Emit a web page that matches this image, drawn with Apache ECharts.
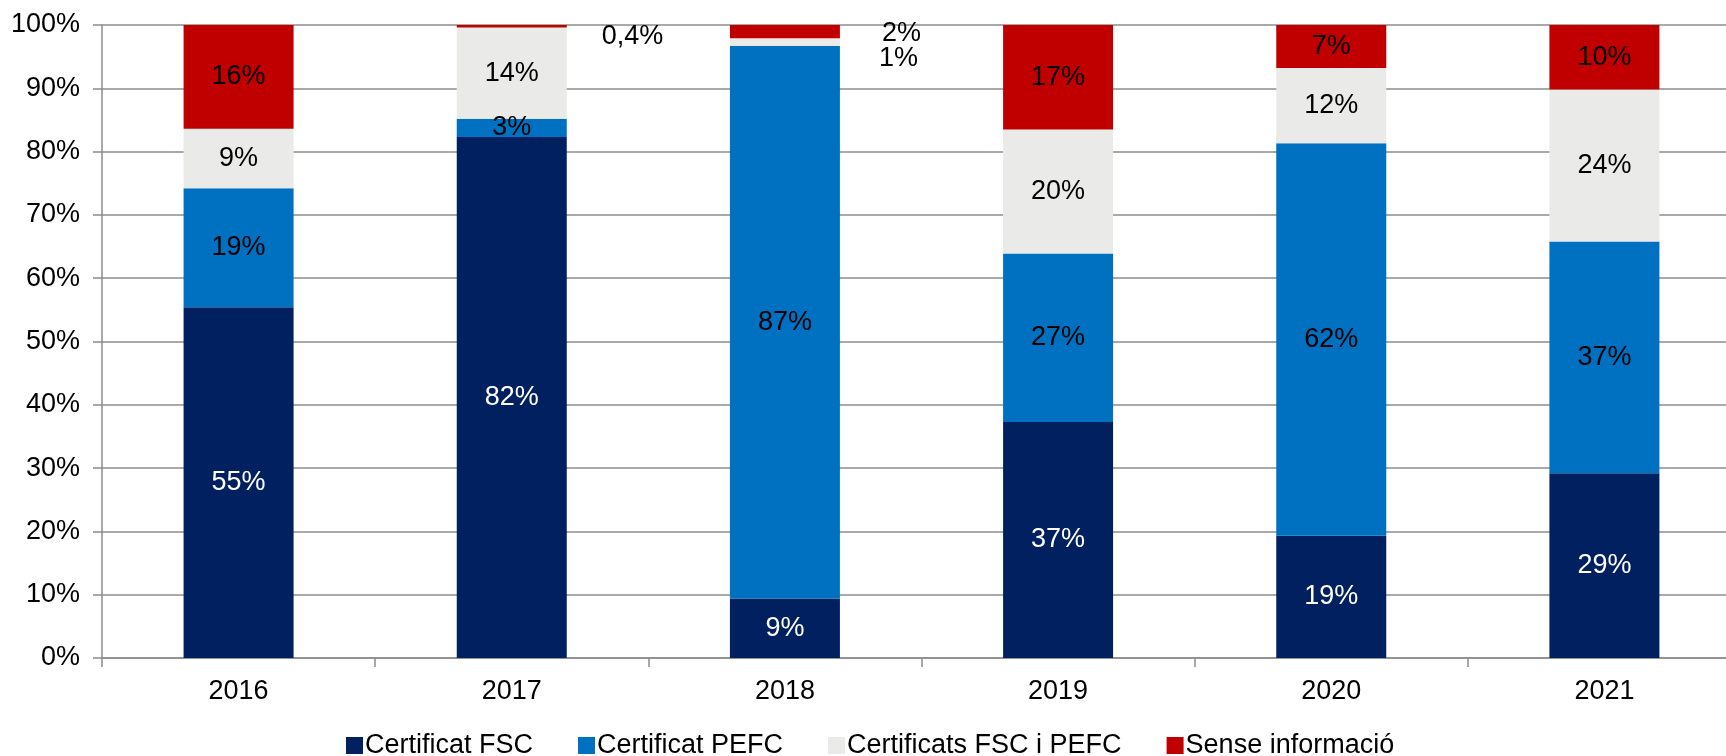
<!DOCTYPE html>
<html>
<head>
<meta charset="utf-8">
<script src="https://cdn.jsdelivr.net/npm/echarts@6/dist/echarts.min.js"></script>
<style>
  html, body {margin:0; padding:0; background:#fff;}
  #chart {width:1726px; height:756px;}
</style>
</head>
<body>
<div id="chart"></div>
<script>
// data (percent of total)
let years=['2016', '2017', '2018', '2019', '2020', '2021'];
let fsc=[55.4, 82.3, 9.4, 37.3, 19.3, 29.2];
let pefc=[18.8, 2.9, 87.3, 26.6, 62.0, 36.6];
let both=[9.4, 14.4, 1.2, 19.6, 11.9, 24.0];
let noInfo=[16.4, 0.4, 2.1, 16.5, 6.8, 10.2];
let seriesNames=['Certificat FSC', 'Certificat PEFC', 'Certificats FSC i PEFC', 'Sense informació'];

let font='"Liberation Sans", Arial, sans-serif';
let fontSize=27;

function fmt(p){
    let v=p.value;
    if(v<1) return v.toFixed(1).replace('.', ',')+'%';
    return Math.round(v)+'%';
}

// labels that sit beside the bar (segments too thin)
let outside={
    'Certificats FSC i PEFC':{2:[34, 16]},
    'Sense informació':{1:[30, 10], 2:[37, 2]}
};

function makeSeries(name, values, color, labelColor){
    let data=values.map((v, i)=>{
        let off=outside[name] && outside[name][i];
        if(off){
            return {value:v, label:{position:'right', offset:off, color:'#000'}};
        }
        return v;
    });
    return {
        name,
        type:'bar',
        stack:'total',
        barWidth:110,
        itemStyle:{color},
        label:{
            show:true,
            position:'inside',
            color:labelColor,
            fontFamily:font,
            fontSize,
            formatter:fmt
        },
        data
    };
}

let chart=echarts.init(document.getElementById('chart'), null, {renderer:'canvas'});
chart.setOption({
    animation:false,
    textStyle:{fontFamily:font},
    // the original plot runs a bit past the right edge of the picture
    grid:{left:102, right:-15, top:25, bottom:98, outerBoundsMode:'none'},
    legend:{
        top:727,
        left:341,
        icon:'rect',
        itemWidth:17,
        itemHeight:17,
        itemGap:45,
        textStyle:{fontFamily:font, fontSize, color:'#000', padding:[0, 0, 0, -3]},
        data:seriesNames
    },
    xAxis:{
        type:'category',
        data:years,
        axisLine:{lineStyle:{color:'#8c8c8c', width:1.5}},
        axisTick:{show:true, length:9, lineStyle:{color:'#8c8c8c', width:1.5}},
        axisLabel:{color:'#000', fontFamily:font, fontSize, margin:20}
    },
    yAxis:{
        type:'value',
        min:0,
        max:100,
        interval:10,
        axisLine:{show:true, lineStyle:{color:'#8c8c8c', width:1.5}},
        axisTick:{show:true, length:9, lineStyle:{color:'#8c8c8c', width:1.5}},
        splitLine:{lineStyle:{color:'#8c8c8c', width:1.5}},
        axisLabel:{color:'#000', fontFamily:font, fontSize, margin:22, formatter:'{value}%'}
    },
    series:[
        makeSeries(seriesNames[0], fsc, '#00205F', '#fff'),
        makeSeries(seriesNames[1], pefc, '#0070C0', '#000'),
        makeSeries(seriesNames[2], both, '#EAEAE8', '#000'),
        makeSeries(seriesNames[3], noInfo, '#C00000', '#000')
    ]
});
</script>
</body>
</html>
